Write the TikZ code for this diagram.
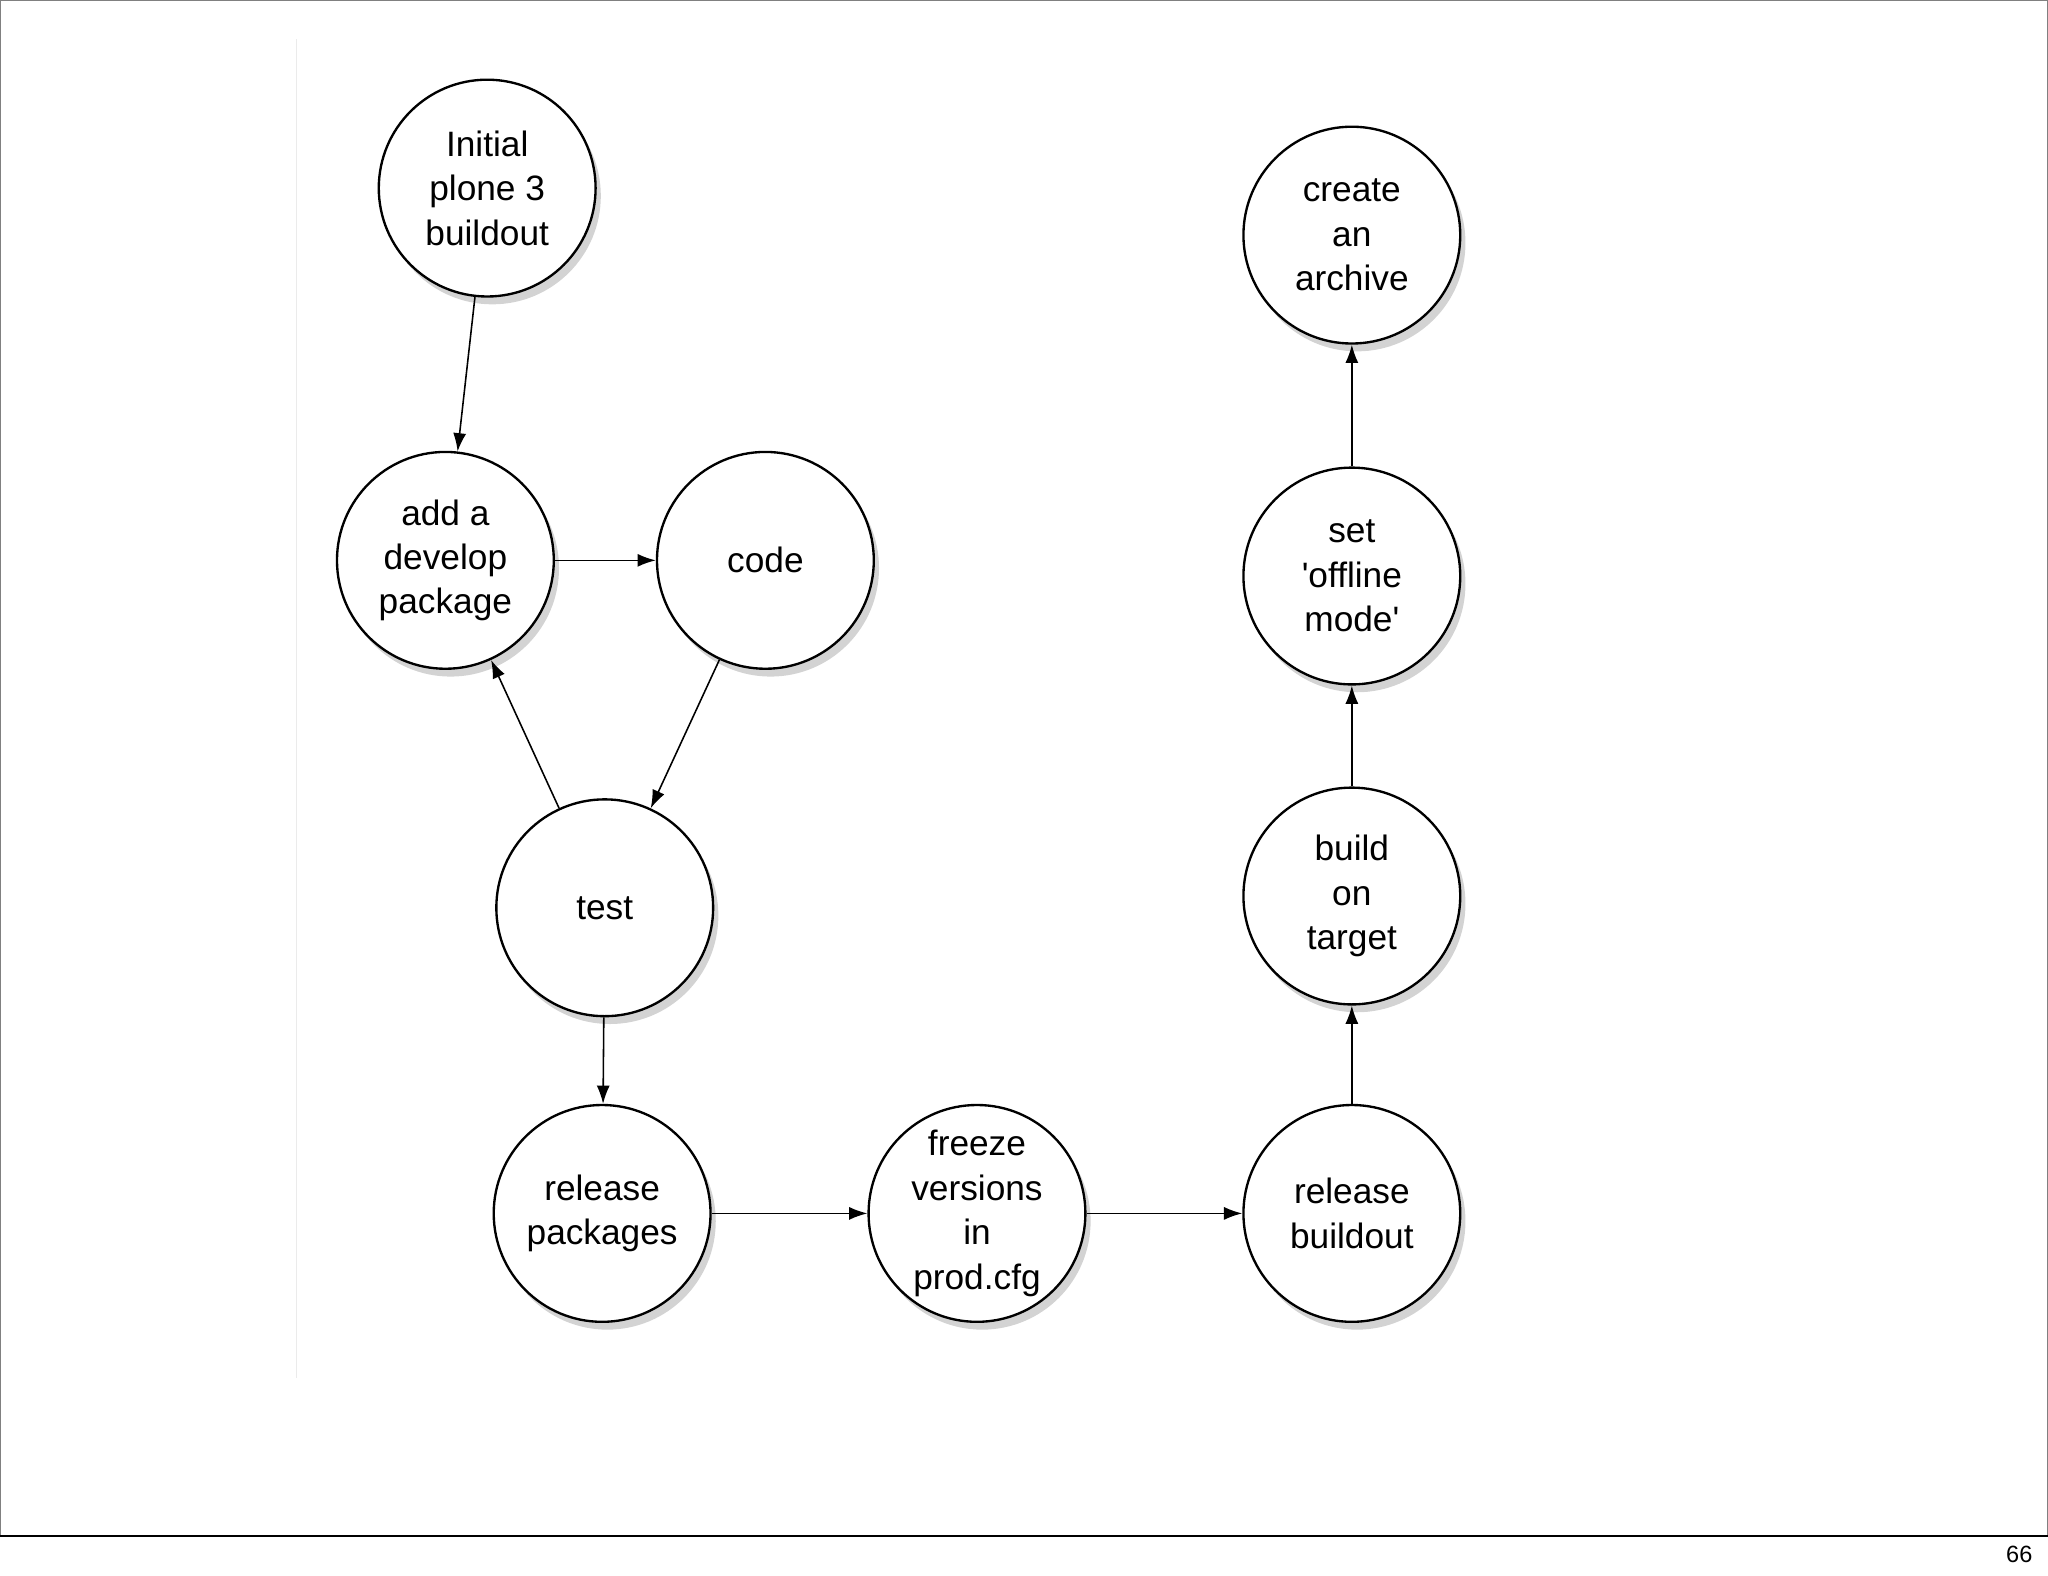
\documentclass[tikz,border=0pt]{standalone}
\usepackage{fontspec}
\setmainfont{Liberation Sans}
\usetikzlibrary{arrows.meta,shadows}
\begin{document}
\begin{tikzpicture}[x=0.5pt,y=-0.5pt,
  stage/.style={circle,draw=black,line width=0.9pt,fill=white,minimum size=83pt,inner sep=0pt,align=center,font=\fontsize{13.5}{17}\selectfont,drop shadow={shadow xshift=2pt,shadow yshift=-3pt,opacity=0.35}},
  conn/.style={-{Latex[length=7pt,width=5pt]},line width=0.6pt}]
\useasboundingbox (0,0) rectangle (1568,1206);
\draw[line width=0.5pt,gray] (0.5,1176) -- (0.5,0.5) -- (1567.5,0.5) -- (1567.5,1176);
\draw[line width=0.6pt] (0,1176) -- (1568,1176);
\draw[black!8,line width=0.5pt] (227,30) -- (227,1055);
\node[font=\fontsize{9}{10}\selectfont] (pg) at (1546,1190) {66};
\node[stage] (init) at (373,144) {Initial\\plone 3\\buildout};
\node[stage] (add) at (341,429) {add a\\develop\\package};
\node[stage] (code) at (586,429) {code};
\node[stage] (test) at (463,695) {test};
\node[stage] (relp) at (461,929) {release\\packages};
\node[stage] (freeze) at (748,929) {freeze\\versions\\in\\prod.cfg};
\node[stage] (relb) at (1035,929) {release\\buildout};
\node[stage] (build) at (1035,686) {build\\on\\target};
\node[stage] (off) at (1035,441) {set\\\textquotesingle offline\\mode\textquotesingle};
\node[stage] (arch) at (1035,180) {create\\an\\archive};
\draw[conn] (init) -- (add);
\draw[conn] (add) -- (code);
\draw[conn] (code) -- (test);
\draw[conn] (test) -- (add);
\draw[conn] (test) -- (relp);
\draw[conn] (relp) -- (freeze);
\draw[conn] (freeze) -- (relb);
\draw[conn] (relb) -- (build);
\draw[conn] (build) -- (off);
\draw[conn] (off) -- (arch);
\end{tikzpicture}
\end{document}
